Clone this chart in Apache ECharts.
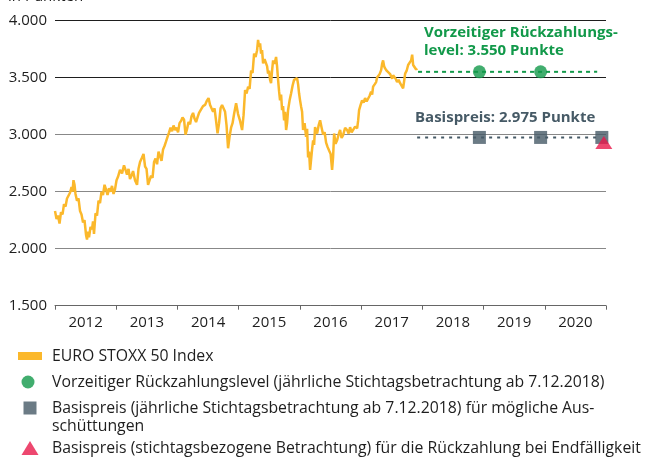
<!DOCTYPE html>
<html>
<head>
<meta charset="utf-8">
<script src="https://cdn.jsdelivr.net/npm/echarts@6/dist/echarts.min.js"></script>
<style>
html,body{margin:0;padding:0;background:#fff;}
#chart{width:645px;height:457px;}
</style>
</head>
<body>
<div id="chart"></div>
<script>
// ---------- data ----------
const yearCategories = ['2012','2013','2014','2015','2016','2017','2018','2019','2020'];
const yTicks = [1500, 2000, 2500, 3000, 3500, 4000];

// EURO STOXX 50 Index (time as decimal year, value in points)
const indexYears = [
 2012.000,2012.025,2012.049,2012.074,2012.098,2012.123,2012.147,2012.172,2012.196,2012.221,
 2012.245,2012.270,2012.286,2012.302,2012.319,2012.335,2012.359,2012.384,2012.409,2012.433,
 2012.458,2012.482,2012.507,2012.523,2012.539,2012.556,2012.580,2012.605,2012.621,2012.637,
 2012.662,2012.686,2012.711,2012.735,2012.760,2012.784,2012.809,2012.833,2012.858,2012.882,
 2012.907,2012.931,2012.956,2012.980,2013.005,2013.029,2013.062,2013.095,2013.127,2013.152,
 2013.176,2013.201,2013.225,2013.250,2013.275,2013.307,2013.340,2013.364,2013.389,2013.422,
 2013.446,2013.471,2013.495,2013.520,2013.544,2013.569,2013.593,2013.618,2013.642,2013.667,
 2013.691,2013.716,2013.740,2013.765,2013.789,2013.814,2013.838,2013.863,2013.887,2013.912,
 2013.936,2013.961,2013.985,2014.010,2014.034,2014.059,2014.083,2014.108,2014.132,2014.157,
 2014.181,2014.206,2014.230,2014.255,2014.279,2014.304,2014.328,2014.353,2014.386,2014.418,
 2014.451,2014.484,2014.508,2014.533,2014.557,2014.582,2014.606,2014.631,2014.655,2014.680,
 2014.704,2014.729,2014.753,2014.778,2014.802,2014.827,2014.851,2014.876,2014.900,2014.925,
 2014.958,2014.990,2015.023,2015.056,2015.080,2015.105,2015.129,2015.154,2015.178,2015.203,
 2015.227,2015.252,2015.276,2015.301,2015.317,2015.333,2015.350,2015.366,2015.382,2015.399,
 2015.423,2015.448,2015.464,2015.480,2015.497,2015.513,2015.529,2015.546,2015.562,2015.587,
 2015.611,2015.627,2015.644,2015.660,2015.676,2015.693,2015.709,2015.725,2015.742,2015.758,
 2015.775,2015.791,2015.807,2015.832,2015.856,2015.881,2015.905,2015.930,2015.954,2015.971,
 2015.987,2016.003,2016.020,2016.036,2016.052,2016.077,2016.101,2016.118,2016.134,2016.150,
 2016.167,2016.183,2016.199,2016.216,2016.232,2016.248,2016.265,2016.281,2016.306,2016.330,
 2016.355,2016.379,2016.404,2016.428,2016.453,2016.477,2016.502,2016.526,2016.542,2016.559,
 2016.583,2016.608,2016.632,2016.657,2016.681,2016.706,2016.739,2016.771,2016.796,2016.820,
 2016.845,2016.869,2016.902,2016.935,2016.951,2016.967,2016.992,2017.016,2017.041,2017.065,
 2017.090,2017.114,2017.139,2017.163,2017.180,2017.196,2017.221,2017.245,2017.261,2017.278,
 2017.302,2017.327,2017.343,2017.359,2017.376,2017.392,2017.417,2017.441,2017.474,2017.507,
 2017.523,2017.539,2017.564,2017.588,2017.613,2017.637,2017.662,2017.686,2017.703,2017.719,
 2017.744,2017.768,2017.793,2017.817,2017.834,2017.850,2017.875,2017.899,2017.915
];
const indexValues = [
 2330,2260,2290,2220,2320,2300,2390,2370,2440,2430,
 2490,2540,2500,2600,2560,2480,2420,2440,2330,2300,
 2230,2250,2120,2080,2150,2100,2190,2170,2240,2130,
 2310,2290,2420,2400,2500,2470,2560,2520,2470,2530,
 2500,2550,2480,2520,2600,2630,2690,2660,2730,2690,
 2650,2700,2610,2640,2680,2600,2560,2700,2760,2800,
 2830,2720,2700,2560,2550,2640,2620,2760,2790,2740,
 2850,2810,2770,2870,2900,2940,2980,3020,3060,3030,
 3080,3040,3060,3020,3100,3120,3150,3130,3000,3050,
 3110,3090,3160,3190,3140,3110,3150,3190,3220,3250,
 3260,3300,3320,3260,3230,3200,3230,3120,3010,3100,
 3230,3260,3270,3200,3080,2880,2980,3060,3100,3180,
 3275,3180,3120,3040,3170,3390,3360,3420,3400,3560,
 3540,3710,3680,3740,3830,3770,3800,3710,3740,3625,
 3660,3670,3600,3535,3560,3480,3450,3560,3650,3620,
 3680,3600,3480,3380,3300,3350,3215,3250,3125,3200,
 3040,3100,3215,3300,3360,3430,3480,3470,3495,3440,
 3360,3300,3245,3200,3040,3100,2980,3050,2800,2850,
 2690,2780,2870,2950,2910,3065,3030,3010,3080,3125,
 3060,3000,3020,2930,2890,2860,2830,2690,2800,3010,
 2920,2950,3000,3040,2970,2995,3060,3040,3010,3065,
 3020,3010,3070,3055,3120,3215,3260,3300,3280,3320,
 3290,3285,3340,3375,3350,3420,3440,3460,3500,3505,
 3530,3565,3620,3650,3600,3580,3560,3565,3530,3490,
 3520,3535,3490,3460,3480,3450,3440,3405,3470,3535,
 3560,3610,3600,3650,3700,3610,3620,3570,3580
];

const recallLevel = 3550;        // Vorzeitiger Rückzahlungslevel
const strikeLevel = 2975;        // Basispreis
const observationDates = [2018.932, 2019.932];          // 7.12.2018, 7.12.2019
const strikeDates = [2018.932, 2019.932, 2020.932];     // incl. final 7.12.2020
const finalDate = [2020.932];
const recallLineSpan = [2017.93, 2020.856];
const strikeLineSpan = [2017.915, 2020.905];

// ---------- style ----------
const FONT = 'Open Sans';
const LEGEND_FS = 15.8;
const YELLOW = '#fbb82b';
const GREEN = '#12994a';
const SLATE = '#465a66';
const RED = '#e8194b';
const TXT = '#1e1e1e';

const nameIndex = 'EURO STOXX 50 Index';
const nameRecall = 'Vorzeitiger Rückzahlungslevel (jährliche Stichtagsbetrachtung ab 7.12.2018)';
const nameStrike = 'Basispreis (jährliche Stichtagsbetrachtung ab 7.12.2018) für mögliche Ausschüttungen';
const nameFinal = 'Basispreis (stichtagsbezogene Betrachtung) für die Rückzahlung bei Endfälligkeit';

const fmt = v => String(v).replace(/\B(?=(\d{3})+(?!\d))/g, '.');

const chart = echarts.init(document.getElementById('chart'), null, {renderer: 'canvas'});

function legendItem(name, icon, left, top, w, h, padLeft, extra) {
  return Object.assign({
    data: [{name: name, icon: icon}],
    left: left, top: top, orient: 'horizontal', padding: 0,
    itemWidth: w, itemHeight: h, selectedMode: false,
    textStyle: {fontFamily: FONT, fontSize: LEGEND_FS, lineHeight: 18, color: TXT, padding: [0, 0, 0, padLeft]}
  }, extra || {});
}

const option = {
  animation: false,
  backgroundColor: '#fff',
  textStyle: {fontFamily: FONT},
  grid: {left: 55, right: 39, top: 20.5, bottom: 151.3, containLabel: false},
  xAxis: [{
    type: 'category', data: yearCategories, boundaryGap: true, position: 'bottom',
    axisLine: {show: true, lineStyle: {color: '#666', width: 1}},
    axisTick: {show: true, length: 4, lineStyle: {color: '#666'}},
    axisLabel: {fontFamily: FONT, fontSize: 15, color: TXT, margin: 10},
    splitLine: {show: false}
  }, {
    type: 'value', min: 2012, max: 2021, show: false
  }],
  yAxis: {
    type: 'value', min: yTicks[0], max: yTicks[yTicks.length - 1], interval: 500,
    axisLine: {show: false}, axisTick: {show: false},
    axisLabel: {fontFamily: FONT, fontSize: 15, color: TXT, margin: 8, formatter: fmt},
    splitLine: {show: true, lineStyle: {color: ['#888', '#888', '#888', '#888', '#1e1e1e', '#1e1e1e'], width: 1}}
  },
  legend: [
    legendItem(nameIndex, 'rect', 18, 347, 24, 8, 5),
    legendItem(nameRecall, 'circle', 21.5, 373, 13, 13, 12.5),
    legendItem(nameStrike, 'rect', 23.5, 381, 13, 13, 10.5, {
      formatter: () => '\nBasispreis (jährliche Stichtagsbetrachtung ab 7.12.2018) für mögliche Aus-\nschüttungen',
      textStyle: {fontFamily: FONT, fontSize: LEGEND_FS, color: TXT, lineHeight: 18, padding: [0, 0, 0, 10.5]}
    }),
    legendItem(nameFinal, 'triangle', 21.5, 439, 17, 14, 8.5)
  ],
  graphic: [
    {type: 'text', left: 8, top: -11, style: {text: 'in Punkten', fontFamily: FONT, fontSize: 15, fill: TXT}},
    {type: 'text', left: 424, top: 24, style: {text: 'Vorzeitiger Rückzahlungs-\nlevel: 3.550 Punkte', fontFamily: FONT, fontSize: 15, fontWeight: 'bold', fill: GREEN, lineHeight: 17.5}},
    {type: 'text', left: 415, top: 110, style: {text: 'Basispreis: 2.975 Punkte', fontFamily: FONT, fontSize: 15, fontWeight: 'bold', fill: SLATE}}
  ],
  series: [
    {
      name: nameIndex, type: 'line', xAxisIndex: 1,
      data: indexYears.map((t, i) => [t, indexValues[i]]),
      showSymbol: false, symbol: 'none', color: YELLOW,
      lineStyle: {color: YELLOW, width: 2.5}, z: 3
    },
    {
      name: 'Rückzahlungslevel-Linie', type: 'line', xAxisIndex: 1,
      data: recallLineSpan.map(t => [t, recallLevel]), symbol: 'none',
      lineStyle: {color: GREEN, width: 2, type: [4, 4]}, z: 2
    },
    {
      name: 'Basispreis-Linie', type: 'line', xAxisIndex: 1,
      data: strikeLineSpan.map(t => [t, strikeLevel]), symbol: 'none',
      lineStyle: {color: SLATE, width: 2, type: [3, 5]}, z: 2
    },
    {
      name: nameRecall, type: 'scatter', xAxisIndex: 1,
      data: observationDates.map(t => [t, recallLevel]),
      symbol: 'circle', symbolSize: 13, itemStyle: {color: GREEN}, z: 4
    },
    {
      name: nameStrike, type: 'scatter', xAxisIndex: 1,
      data: strikeDates.map(t => [t, strikeLevel]),
      symbol: 'rect', symbolSize: 13, itemStyle: {color: SLATE}, z: 4
    },
    {
      name: nameFinal, type: 'scatter', xAxisIndex: 1,
      data: finalDate.map(t => [t, strikeLevel]),
      symbol: 'triangle', symbolSize: [17, 13], symbolOffset: [2, 5], itemStyle: {color: RED}, z: 5
    }
  ]
};
chart.setOption(option);
</script>
</body>
</html>
